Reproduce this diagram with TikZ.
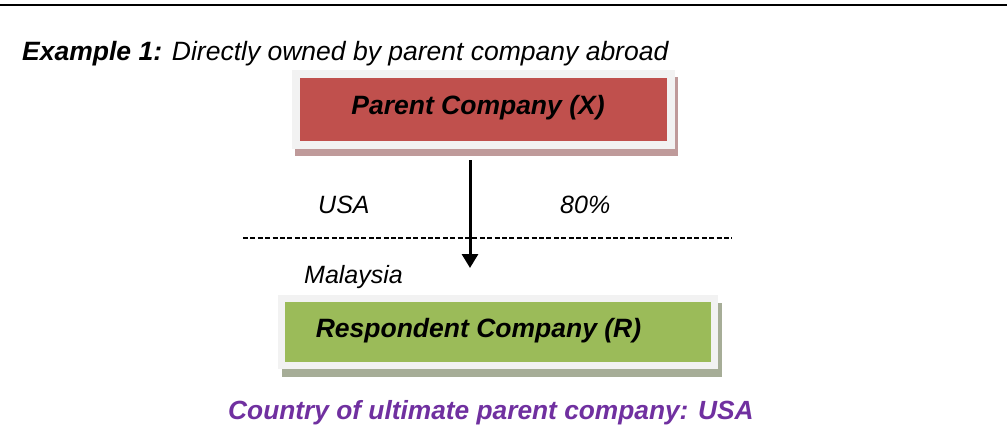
\documentclass[tikz,border=0pt]{standalone}
\usepackage{fontspec}
\setmainfont{Liberation Sans}
\usetikzlibrary{arrows.meta,backgrounds}
\definecolor{boxred}{HTML}{C0504D}
\definecolor{boxgreen}{HTML}{9BBB59}
\definecolor{boxframe}{HTML}{F2F2F2}
\definecolor{redshadow}{HTML}{BF9A9A}
\definecolor{greenshadow}{HTML}{A6AD97}
\definecolor{ultpurple}{HTML}{7030A0}
\begin{document}
\begin{tikzpicture}[x=1pt,y=-1pt,
  txt/.style={inner sep=0pt, anchor=base west, font=\fontsize{25}{30}\selectfont\itshape},
  boxtxt/.style={inner sep=0pt, anchor=base, font=\fontsize{26.5}{30}\selectfont\bfseries\itshape},
  framebox/.style={draw=boxframe, inner sep=0pt, outer sep=0pt},
]
\useasboundingbox (0,0) rectangle (1007,447);
\coordinate (tl) at (0,5);
\coordinate (tr) at (1007,5);
\draw[line width=2.4pt] (tl) -- (tr);

\node[txt, font=\fontsize{26.5}{30}\selectfont\itshape] (title) at (22,60) {{\bfseries Example 1:} Directly owned by parent company abroad};

% parent box
\node[framebox, line width=8pt, fill=boxred, minimum width=375pt, minimum height=71pt] (P) at (483.5,109.5) {};
\node[boxtxt] (Pt) at (478,114) {Parent Company (X)};

% respondent box
\node[framebox, line width=7pt, fill=boxgreen, minimum width=433pt, minimum height=67pt] (R) at (498,332) {};
\node[boxtxt] (Rt) at (478.5,337) {Respondent Company (R)};

\begin{scope}[on background layer]
  \fill[redshadow] ([xshift=-1pt,yshift=-3pt]P.north west) rectangle ([xshift=7pt,yshift=-11pt]P.south east);
  \fill[greenshadow] ([xshift=0.5pt,yshift=-4.5pt]R.north west) rectangle ([xshift=7.5pt,yshift=-11.5pt]R.south east);
\end{scope}

% arrow
\coordinate (ax) at (470,0);
\draw[line width=3pt, -{Triangle[width=16pt,length=14pt]}, shorten <=15pt, shorten >=30.5pt]
  (P.south -| ax) -- (R.north -| ax);

% border line
\coordinate (dl) at (243,238);
\coordinate (dr) at (732,238);
\draw[line width=2.2pt, dash pattern=on 5pt off 2.4pt] (dl) -- (dr);

\node[txt] (usa) at (318,213) {USA};
\node[txt] (pct) at (560,213) {80\%};
\node[txt] (mal) at (304,283) {Malaysia};

\node[txt, font=\fontsize{26.3}{30}\selectfont\bfseries\itshape, text=ultpurple] (ult) at (228,419) {Country of ultimate parent company: USA};
\end{tikzpicture}
\end{document}
